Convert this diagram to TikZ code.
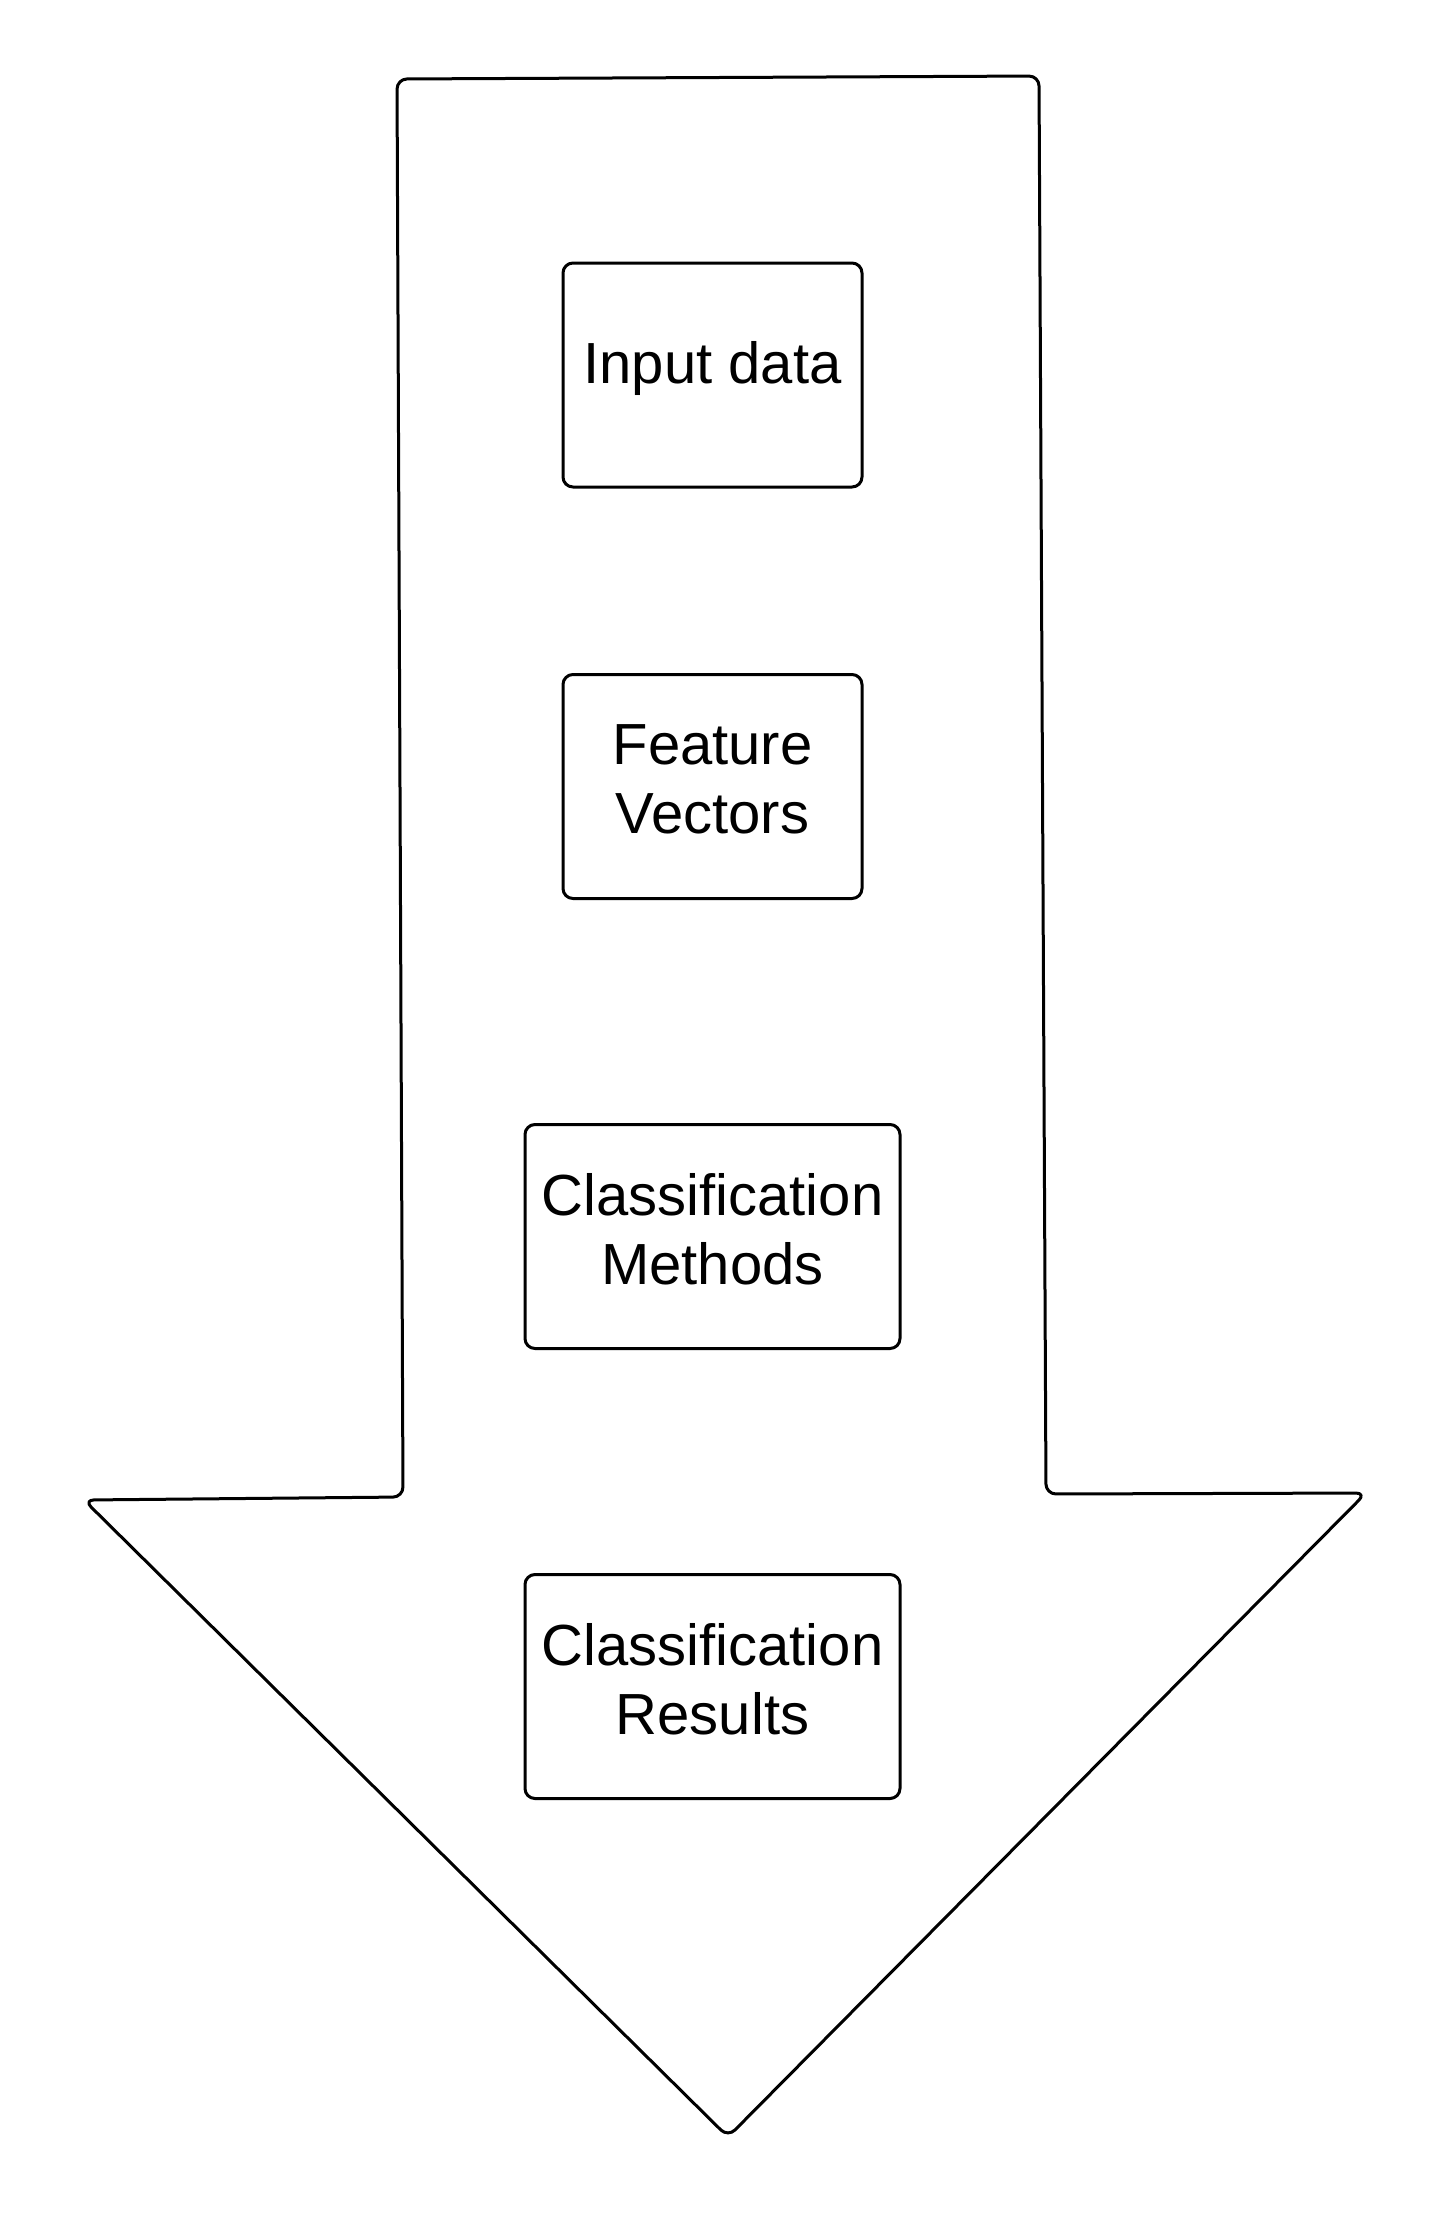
\documentclass[tikz,border=0pt]{standalone}
\usepackage{fontspec}
\setmainfont{Liberation Sans}
\begin{document}
\begin{tikzpicture}[x=0.5pt,y=-0.5pt,
  outline/.style={draw=black,line width=1.5pt,rounded corners=5pt,line join=round},
  stepbox/.style={draw=black,line width=1.5pt,rounded corners=5pt,inner sep=0pt,
    minimum height=112pt},
  narrowbox/.style={stepbox,minimum width=149.5pt},
  widebox/.style={stepbox,minimum width=187.5pt},
  label text/.style={align=center,inner sep=0pt,yshift=3.5pt,
    font=\fontsize{29}{34.5}\selectfont}]
\useasboundingbox (0,0) rectangle (1446,2218);
\draw[outline] (397,79) -- (1039,76) -- (1046,1494) -- (1366,1493) -- (728,2137) -- (84,1500) -- (403,1497) -- cycle;
\node[narrowbox] (input) at (712.5,375) {};
\node[label text] (inputT) at (input.center) {Input data};
\node[narrowbox] (feat) at (712.5,786.5) {};
\node[label text] (featT) at (feat.center) {Feature\\Vectors};
\node[widebox] (meth) at (712.5,1236.5) {};
\node[label text] (methT) at (meth.center) {Classification\\Methods};
\node[widebox] (res) at (712.5,1686.5) {};
\node[label text] (resT) at (res.center) {Classification\\Results};
\end{tikzpicture}
\end{document}
